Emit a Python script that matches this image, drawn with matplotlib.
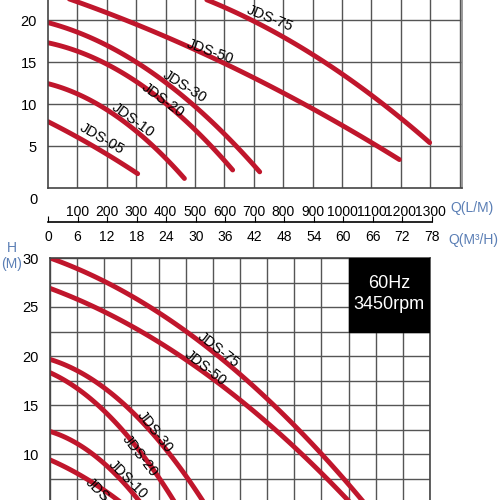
import numpy as np
import matplotlib.pyplot as plt
from matplotlib.patches import Rectangle

plt.rcParams['font.family'] = ['Liberation Sans Narrow', 'Liberation Sans', 'DejaVu Sans']

RED = '#c0162c'
LABEL_BLUE = '#5b7fb5'

# upper chart: Q in L/min, H in m
top_curves = {
    'JDS-75': ([540, 913, 1298], [22.4, 15.6, 5.4]),
    'JDS-50': ([0, 62, 515, 855, 1195], [23.6, 22.4, 16.1, 10.5, 3.3]),
    'JDS-30': ([0, 288, 515, 720], [19.7, 15.2, 9.3, 1.9]),
    'JDS-20': ([0, 288, 515, 628], [17.3, 12.9, 6.5, 2.1]),
    'JDS-10': ([0, 175, 345, 464], [12.5, 9.6, 5.7, 1.0]),
    'JDS-05': ([0, 118, 305], [7.9, 5.7, 1.7]),
}
top_labels = [('JDS-75', 270, 18, -22), ('JDS-50', 210, 52, -20), ('JDS-30', 185, 87, -32),
              ('JDS-20', 163, 100, -36), ('JDS-10', 133, 120, -36), ('JDS-05', 102, 139, -30)]
lpm_ticks = [100, 200, 300, 400, 500, 600, 700, 800, 900, 1000, 1100, 1200, 1300]
m3h_ticks = [0, 6, 12, 18, 24, 30, 36, 42, 48, 54, 60, 66, 72, 78]

# lower chart (60Hz): x in grid cells, H in m
bot_curves = {
    'JDS-75': ([0, 3.68, 7.24, 11.4], [30, 25, 17.55, 5.6]),
    'JDS-50': ([0, 3.68, 7.0, 10.9], [26.8, 22.3, 15.2, 5.6]),
    'JDS-30': ([0, 1.84, 4.78, 5.6], [19.6, 17.2, 8.4, 5.5]),
    'JDS-20': ([0, 1.84, 4.5], [18.3, 14.8, 5.5]),
    'JDS-10': ([0, 1.84, 3.2], [12.3, 9.4, 5.5]),
    'JDS-05': ([0, 1.5, 2.4], [9.4, 7.2, 5.5]),
}
bot_labels = [('JDS-75', 218, 350, -38), ('JDS-50', 205, 368, -38), ('JDS-30', 155, 432, -52),
              ('JDS-20', 140, 456, -52), ('JDS-10', 128, 479, -45), ('JDS-05', 105, 497, -45)]


def smooth(xs, ys, x_end):
    coef = np.polyfit(xs, ys, 2)
    xx = np.linspace(xs[0], x_end, 100)
    return xx, np.polyval(coef, xx)


fig = plt.figure(figsize=(5, 5), dpi=100)
W = H = 500.0

# upper panel
ax1 = fig.add_axes([48 / W, 1 - 188 / H, 414 / W, 210 / H])
ax1.set_xlim(0, 1408)
ax1.set_ylim(0, 25)
ax1.set_xticks(lpm_ticks + [1400])
ax1.set_xticklabels([str(t) for t in lpm_ticks] + [''], fontsize=10)
ax1.set_yticks([5, 10, 15, 20])
ax1.set_yticklabels(['5', '10', '15', '20'], fontsize=10.5)
ax1.tick_params(length=0, pad=12, axis='x')
ax1.tick_params(length=0, pad=8, axis='y')
ax1.grid(True, color='#555555', linewidth=1)
for s in ax1.spines.values():
    s.set_color('#444444')
    s.set_linewidth(1.2)
ax1.spines['right'].set_color('#888888')
for name, (xs, ys) in top_curves.items():
    xx, yy = smooth(xs, ys, xs[-1])
    ax1.plot(xx, yy, color=RED, linewidth=3.5, solid_capstyle='round')
fig.text(34 / W, 1 - 200 / H, '0', fontsize=10.5, ha='center', va='center')
fig.text(450 / W, 1 - 208 / H, 'Q(L/M)', fontsize=10, color=LABEL_BLUE, va='center')

# flow axis in m3/h
axq = fig.add_axes([48 / W, 1 - 222 / H, 384 / W, 0.001])
axq.set_xlim(0, 78)
axq.set_xticks(m3h_ticks)
axq.set_xticklabels([str(t) for t in m3h_ticks], fontsize=10)
axq.set_yticks([])
for k in ['top', 'left', 'right']:
    axq.spines[k].set_visible(False)
axq.spines['bottom'].set_linewidth(1.2)
axq.tick_params(axis='x', direction='in', length=4, pad=6)
fig.text(448 / W, 1 - 240 / H, 'Q(M³/H)', fontsize=10, color=LABEL_BLUE, va='center')
fig.text(12 / W, 1 - 256 / H, 'H\n(M)', fontsize=10, color=LABEL_BLUE, ha='center', va='center')

# lower panel
ax2 = fig.add_axes([50 / W, 1 - 552 / H, 380 / W, 294 / H])
ax2.set_xlim(0, 14)
ax2.set_ylim(0, 30)
ax2.set_xticks(np.arange(0, 15, 1))
ax2.set_xticklabels([])
ax2.set_yticks(np.arange(0, 31, 2.5))
ax2.set_yticklabels(['' if (v % 5 or v < 10) else str(int(v)) for v in np.arange(0, 31, 2.5)],
                    fontsize=10.5)
ax2.tick_params(length=0, pad=8)
ax2.grid(True, color='#555555', linewidth=1)
for s in ax2.spines.values():
    s.set_color('#444444')
    s.set_linewidth(1.2)
for name, (xs, ys) in bot_curves.items():
    xx, yy = smooth(xs, ys, xs[-1] + 1.0)
    ax2.plot(xx, yy, color=RED, linewidth=3.5)
ax2.add_patch(Rectangle((11, 22.5), 3, 7.5, color='black', zorder=5))
ax2.text(12.5, 26.3, '60Hz\n3450rpm', color='white', fontsize=13, ha='center', va='center',
         zorder=6, linespacing=1.3, family=['Liberation Sans', 'DejaVu Sans'])

for name, px, py, rot in top_labels + bot_labels:
    fig.text(px / W, 1 - py / H, name, fontsize=10.5, rotation=rot, ha='center', va='center',
             rotation_mode='anchor')

fig.savefig('out.png', dpi=100)
